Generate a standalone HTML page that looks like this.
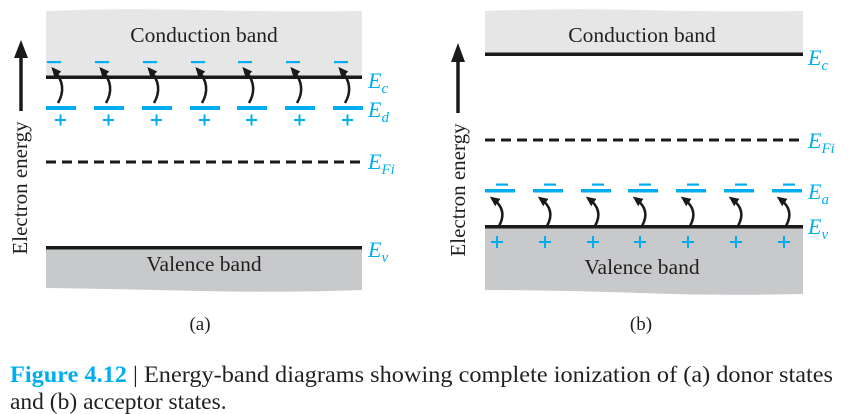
<!DOCTYPE html>
<html><head><meta charset="utf-8"><style>
body{margin:0;background:#fff;width:850px;height:414px;overflow:hidden}
svg{display:block}
.t{font-family:"Liberation Serif",serif}
</style></head><body>
<svg width="850" height="414" xmlns="http://www.w3.org/2000/svg">
<defs>
<marker id="ah" markerWidth="10" markerHeight="9" refX="6" refY="4.5" orient="auto" markerUnits="userSpaceOnUse">
<path d="M0,0 L10,4.5 L0,9 Z" fill="#1a1a1a"/>
</marker>
</defs>
<!-- (a) -->
<path d="M46,11 Q120,8 200,10 T362,11 L362,78 L46,78 Z" fill="#e6e6e6"/>
<path d="M46,248 L362,248 L362,290 Q280,293 200,291 T46,288 Z" fill="#c8c9cb"/>
<text x="204" y="42" class="t" font-size="21.5" text-anchor="middle" fill="#231f20">Conduction band</text>
<text x="204" y="271" class="t" font-size="21.5" text-anchor="middle" fill="#231f20">Valence band</text>
<rect x="46" y="75.5" width="316" height="3.5" fill="#1a1a1a"/>
<line x1="46" y1="162" x2="362" y2="162" stroke="#1a1a1a" stroke-width="3" stroke-dasharray="10,6"/>
<rect x="46" y="246" width="316" height="3.5" fill="#1a1a1a"/>
<g id="da">
<rect x="47" y="61" width="14" height="2.2" fill="#00aeef"/>
<rect x="46" y="106" width="30" height="4" fill="#00aeef"/>
<rect x="55" y="119" width="11" height="2" fill="#00aeef"/><rect x="59.5" y="114.5" width="2" height="11" fill="#00aeef"/>
<path d="M58,103 Q68,86 54,70" fill="none" stroke="#1a1a1a" stroke-width="2.5" marker-end="url(#ah)"/>
</g>
<use href="#da" x="48"/><use href="#da" x="96"/><use href="#da" x="144"/><use href="#da" x="191"/><use href="#da" x="239"/><use href="#da" x="287"/>
<g class="t" fill="#00aeef" font-style="italic" font-size="22">
<text x="368" y="88">E<tspan font-size="15" dy="5">c</tspan></text>
<text x="368" y="117">E<tspan font-size="15" dy="5">d</tspan></text>
<text x="368" y="169">E<tspan font-size="15" dy="5">Fi</tspan></text>
<text x="368" y="257">E<tspan font-size="15" dy="5">v</tspan></text>
</g>
<line x1="21" y1="111" x2="21" y2="56" stroke="#1a1a1a" stroke-width="3.5"/>
<path d="M14,58 L21,40 L28,58 Z" fill="#1a1a1a"/>
<text transform="translate(27,188) rotate(-90)" class="t" font-size="21" text-anchor="middle" fill="#231f20">Electron energy</text>
<text x="200" y="330" class="t" font-size="19" text-anchor="middle" fill="#231f20">(a)</text>
<!-- (b) -->
<path d="M485,11 Q560,8 640,10 T803,11 L803,55 L485,55 Z" fill="#e6e6e6"/>
<path d="M485,227 L803,227 L803,294 Q720,296 640,293 T485,290 Z" fill="#c8c9cb"/>
<text x="642" y="42" class="t" font-size="21.5" text-anchor="middle" fill="#231f20">Conduction band</text>
<text x="642" y="274" class="t" font-size="21.5" text-anchor="middle" fill="#231f20">Valence band</text>
<rect x="485" y="52.5" width="318" height="3.5" fill="#1a1a1a"/>
<line x1="485" y1="140" x2="803" y2="140" stroke="#1a1a1a" stroke-width="3" stroke-dasharray="10,6"/>
<rect x="485" y="225" width="318" height="3.5" fill="#1a1a1a"/>
<g id="db">
<rect x="496" y="183.5" width="12" height="2.2" fill="#00aeef"/>
<rect x="485" y="189" width="30" height="3.5" fill="#00aeef"/>
<rect x="491" y="241" width="12" height="2" fill="#00aeef"/><rect x="496" y="236" width="2" height="12" fill="#00aeef"/>
<path d="M499,226 Q508,210 493,199" fill="none" stroke="#1a1a1a" stroke-width="2.5" marker-end="url(#ah)"/>
</g>
<use href="#db" x="48"/><use href="#db" x="96"/><use href="#db" x="143"/><use href="#db" x="191"/><use href="#db" x="239"/><use href="#db" x="287"/>
<g class="t" fill="#00aeef" font-style="italic" font-size="22">
<text x="808" y="65">E<tspan font-size="15" dy="5">c</tspan></text>
<text x="808" y="148">E<tspan font-size="15" dy="5">Fi</tspan></text>
<text x="808" y="199">E<tspan font-size="15" dy="5">a</tspan></text>
<text x="808" y="234">E<tspan font-size="15" dy="5">v</tspan></text>
</g>
<line x1="458" y1="113" x2="458" y2="60" stroke="#1a1a1a" stroke-width="3.5"/>
<path d="M451,62 L458,43 L465,62 Z" fill="#1a1a1a"/>
<text transform="translate(465,190) rotate(-90)" class="t" font-size="21" text-anchor="middle" fill="#231f20">Electron energy</text>
<text x="641" y="330" class="t" font-size="19" text-anchor="middle" fill="#231f20">(b)</text>
<!-- caption -->
<text x="10" y="382" class="t" font-size="23.5" fill="#231f20" textLength="823" lengthAdjust="spacingAndGlyphs"><tspan font-weight="bold" fill="#00aeef">Figure 4.12</tspan> | Energy-band diagrams showing complete ionization of (a) donor states</text>
<text x="10" y="409" class="t" font-size="23.5" fill="#231f20">and (b) acceptor states.</text>
</svg>
</body></html>
